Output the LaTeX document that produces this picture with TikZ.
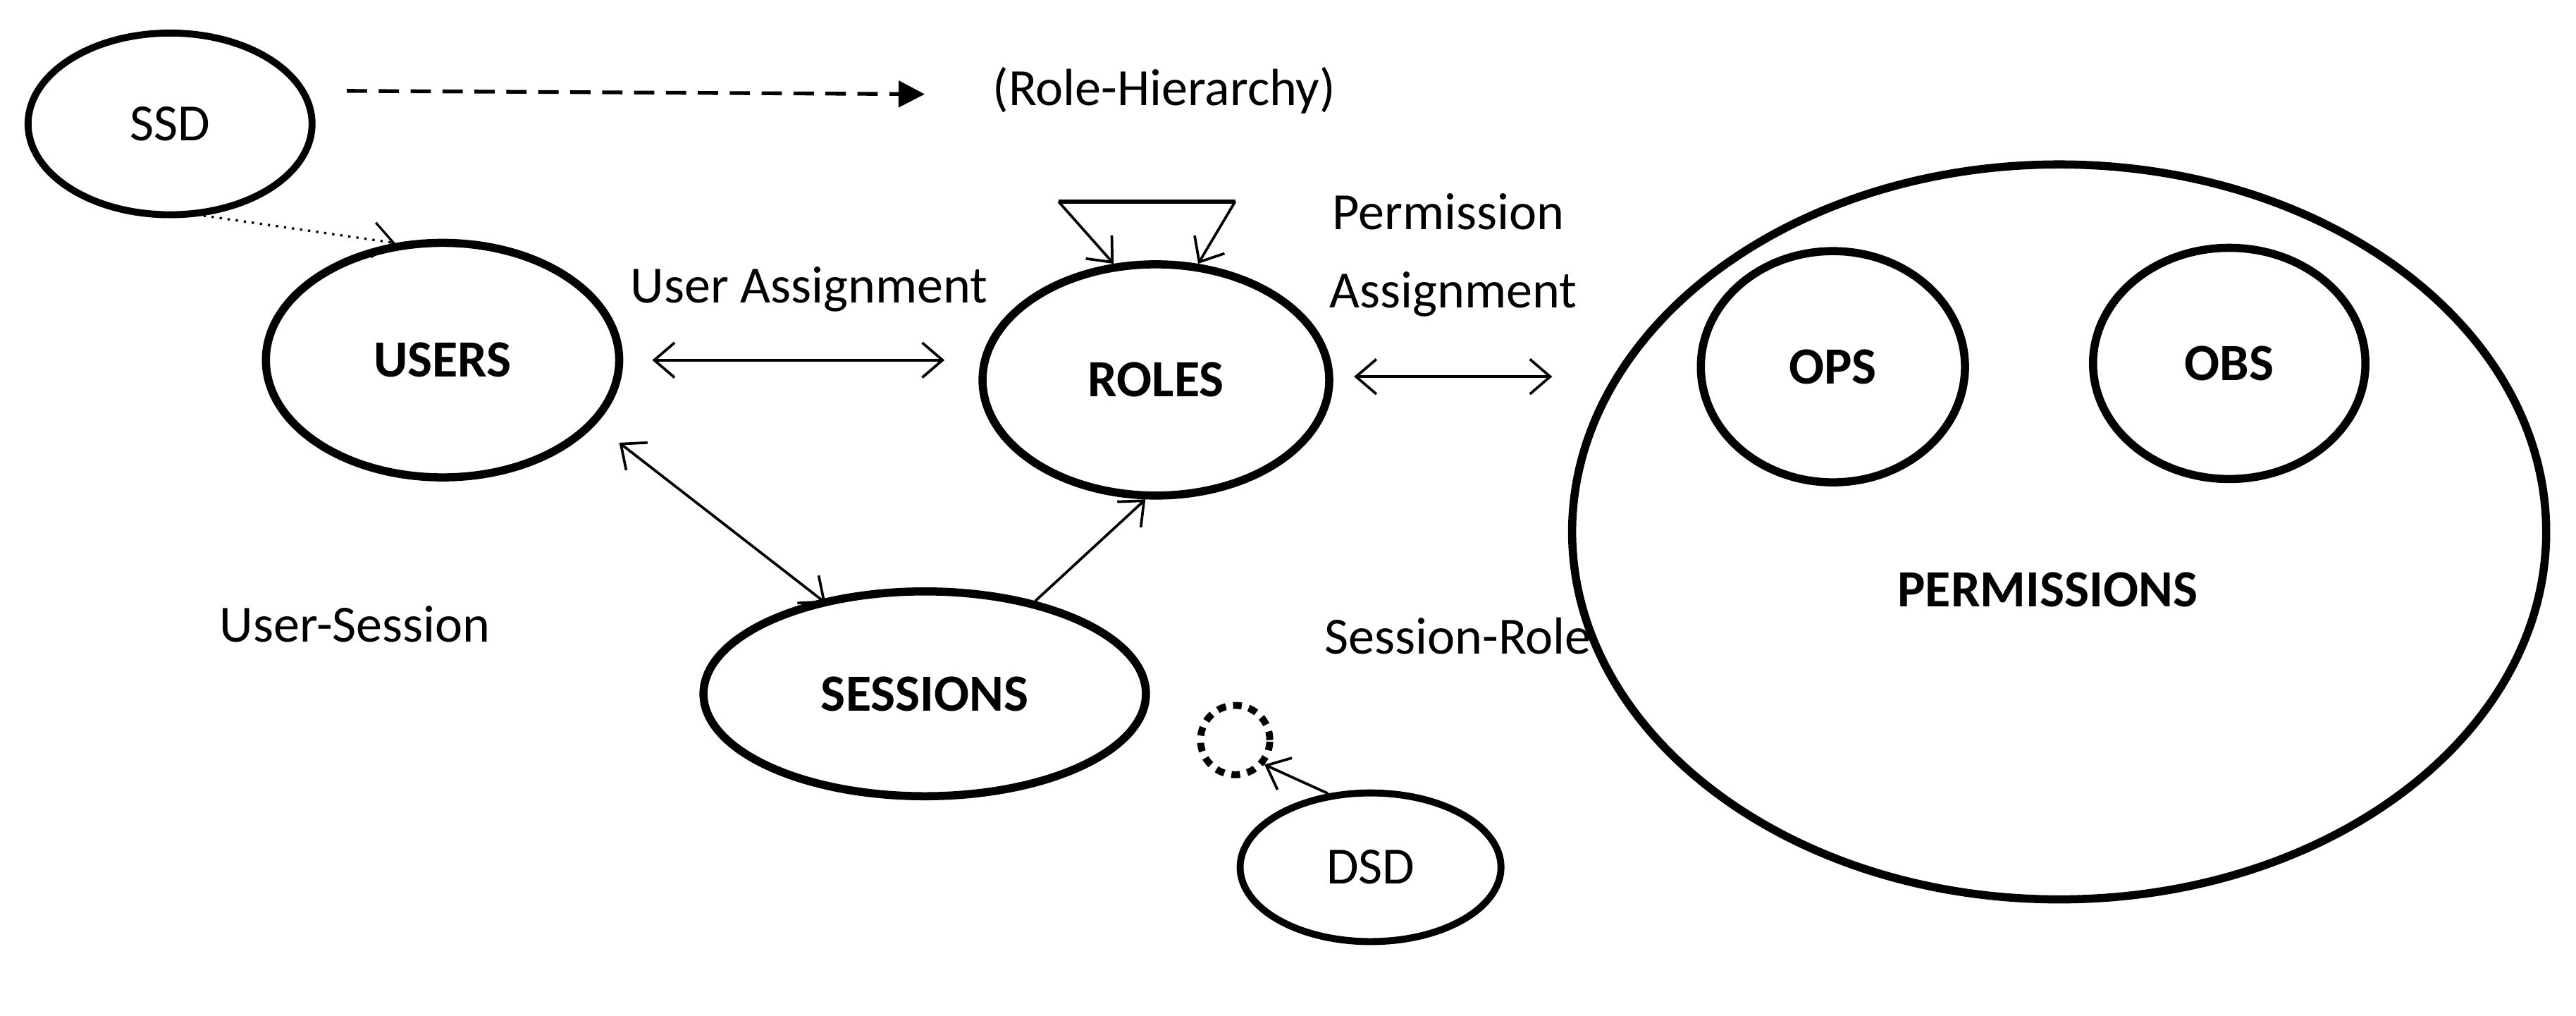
\documentclass[tikz,border=0pt]{standalone}
\usepackage{fontspec}
\setmainfont{Carlito}
\usetikzlibrary{shapes.geometric,arrows.meta}
\begin{document}
\begin{tikzpicture}[x=0.02cm,y=-0.02cm,
  big/.style={ellipse,draw,line width=2.8pt,inner sep=0pt,font=\fontsize{18}{21}\selectfont\bfseries},
  sm/.style={ellipse,draw,line width=2.4pt,inner sep=0pt,font=\fontsize{18}{21}\selectfont},
  lab/.style={font=\fontsize{18}{21}\selectfont,inner sep=0pt},
  arr/.style={line width=0.9pt,-{Straight Barb[length=7pt,width=12pt]}},
  darr/.style={line width=0.9pt,{Straight Barb[length=7pt,width=12pt]}-{Straight Barb[length=7pt,width=12pt]}}]
\useasboundingbox (0,0) rectangle (1560,615);
\node[sm,minimum width=3.44cm,minimum height=2.2cm] (ssd) at (103,75) {SSD};
\node[big,minimum width=4.28cm,minimum height=2.84cm] (users) at (268,218) {USERS};
\node[big,minimum width=4.2cm,minimum height=2.8cm] (roles) at (700,230) {ROLES};
\node[big,minimum width=5.36cm,minimum height=2.48cm] (sess) at (560,420) {SESSIONS};
\node[draw,circle,dash pattern=on 3pt off 2.5pt,line width=2.4pt,minimum size=0.84cm,inner sep=0pt] (dc) at (748,448) {};
\node[sm,minimum width=3.16cm,minimum height=1.8cm] (dsd) at (830,525) {DSD};
\node[big,minimum width=11.8cm,minimum height=8.9cm] (perm) at (1247,322) {};
\node[big,minimum width=3.2cm,minimum height=2.8cm] (ops) at (1110,222) {OPS};
\node[big,minimum width=3.3cm,minimum height=2.8cm] (obs) at (1350,220) {OBS};
\node[lab,font=\fontsize{18}{21}\selectfont\bfseries] (permt) at (1240,357) {PERMISSIONS};
\node[lab] (rh) at (705,55) {(Role-Hierarchy)};
\node[lab] (ua) at (490,175) {User Assignment};
\node[lab] (pa1) at (877,128) {Permission};
\node[lab] (pa2) at (880,178) {Assignment};
\node[lab] (us) at (215,378) {User-Session};
\node[lab] (sr) at (883,385) {Session-Role};
\coordinate (rhe) at (560,57);
\coordinate (b1) at (641,122);
\coordinate (b2) at (748,122);
\coordinate (s0) at (210,55);
\draw[line width=1.3pt,dash pattern=on 7pt off 4pt,-{Triangle[length=9pt,width=9pt]}] (s0) -- (rhe);
\draw[line width=0.8pt,dotted,-{Straight Barb[length=7pt,width=12pt]}] (ssd.-70) -- (users.112);
\draw[darr] (395,218) coordinate (u1) -- (572,218) coordinate (r1);
\draw[darr] (820,228) coordinate (r2) -- (940,228) coordinate (p1);
\draw[darr] (375,268) coordinate (u2) -- (500,365) coordinate (s1);
\draw[arr] (sess.40) -- (roles.-95);
\draw[line width=1.6pt] (b1) -- (b2);
\draw[arr] (b1) -- (roles.110);
\draw[arr] (b2) -- (roles.70);
\draw[arr] (dsd.120) -- (dc.-40);
\end{tikzpicture}
\end{document}
